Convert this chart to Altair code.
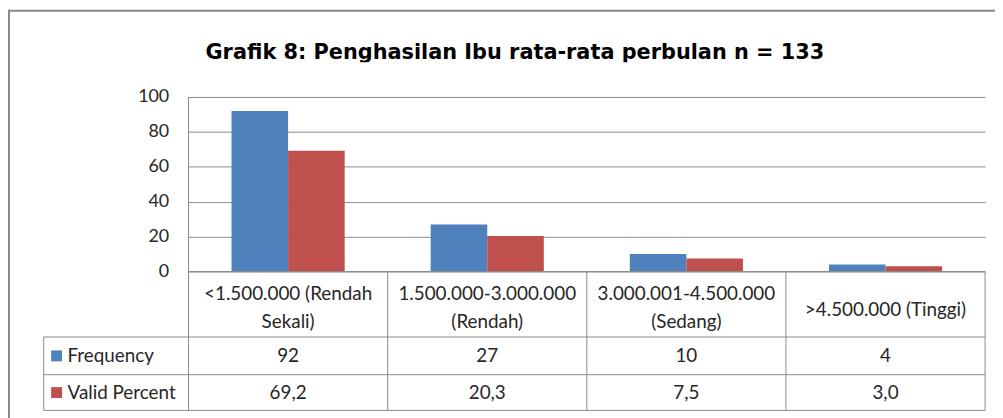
import altair as alt
import pandas as pd

# ---------------- data ----------------
title_text = "Grafik 8: Penghasilan Ibu rata-rata perbulan n = 133"
categories = [
    "<1.500.000 (Rendah Sekali)",
    "1.500.000-3.000.000 (Rendah)",
    "3.000.001-4.500.000 (Sedang)",
    ">4.500.000 (Tinggi)",
]
category_labels = [
    "<1.500.000 (Rendah\nSekali)",
    "1.500.000-3.000.000\n(Rendah)",
    "3.000.001-4.500.000\n(Sedang)",
    ">4.500.000 (Tinggi)",
]
series = ["Frequency", "Valid Percent"]
frequency = [92, 27, 10, 4]
valid_percent = [69.2, 20.3, 7.5, 3.0]
y_ticks = [0, 20, 40, 60, 80, 100]
colors = ["#4F81BD", "#C0504D"]

rows = []
for c, f, v in zip(categories, frequency, valid_percent):
    rows.append({"category": c, "series": "Frequency", "value": f, "label": str(f)})
    rows.append({"category": c, "series": "Valid Percent", "value": v,
                 "label": f"{v:.1f}".replace(".", ",")})
df = pd.DataFrame(rows)
cat_df = pd.DataFrame({"category": categories, "text": category_labels,
                       "nlines": [t.count("\n") + 1 for t in category_labels]})

# ---------------- layout (pixels) ----------------
W, H = 803, 176
ROW1, ROW2, ROW3 = 242, 280, 316          # table row borders below the plot
LEFT = -146                              # left edge of table header column
FONT = "Lato"
TXT = "#262626"
GRID = "#8a8a8a"

xcat = alt.X("category:N", sort=categories,
             scale=alt.Scale(paddingInner=0, paddingOuter=0), axis=None)

bars = alt.Chart(df).mark_bar().encode(
    x=xcat,
    xOffset=alt.XOffset("series:N", sort=series,
                        scale=alt.Scale(paddingInner=0, paddingOuter=0.76)),
    y=alt.Y("value:Q", title=None,
            scale=alt.Scale(domain=[0, 100], nice=False),
            axis=alt.Axis(values=y_ticks, grid=True, ticks=False, tickSize=0,
                          domain=False, labelPadding=20, labelFontSize=18,
                          labelFont=FONT, labelColor=TXT, gridColor=GRID,
                          gridWidth=1)),
    color=alt.Color("series:N", scale=alt.Scale(domain=series, range=colors),
                    legend=None),
)

# category header row
cat_layers = []
for n, yv in [(2, 199), (1, 215)]:
    cat_layers.append(
        alt.Chart(cat_df).transform_filter(alt.datum.nlines == n).mark_text(
            font=FONT, fontSize=19, color=TXT, lineBreak="\n", lineHeight=28,
            align="center", baseline="middle"
        ).encode(x=xcat, y=alt.value(yv), text="text:N"))

# value rows + left header column
layers = []
for s, y0, y1 in [("Frequency", ROW1, ROW2), ("Valid Percent", ROW2, ROW3)]:
    yc = (y0 + y1) / 2
    sub = alt.Chart(df).transform_filter(alt.datum.series == s)
    layers.append(sub.mark_text(font=FONT, fontSize=19, color=TXT,
                                align="center", baseline="middle")
                  .encode(x=xcat, y=alt.value(yc), text="label:N"))
    one = alt.Chart(pd.DataFrame({"series": [s]}))
    layers.append(one.mark_square(size=121, opacity=1).encode(
        x=alt.value(LEFT + 13), y=alt.value(yc),
        color=alt.Color("series:N", scale=alt.Scale(domain=series, range=colors),
                        legend=None)))
    layers.append(one.mark_text(font=FONT, fontSize=19, color=TXT,
                                align="left", baseline="middle")
                  .encode(x=alt.value(LEFT + 24), y=alt.value(yc), text="series:N"))

# table grid lines
def hline(x0, x1, y):
    return alt.Chart(pd.DataFrame({"k": [0]})).mark_rule(color=GRID, strokeWidth=1).encode(
        x=alt.value(x0), x2=alt.value(x1), y=alt.value(y))

def vline(x, y0, y1):
    return alt.Chart(pd.DataFrame({"k": [0]})).mark_rule(color=GRID, strokeWidth=1).encode(
        x=alt.value(x), y=alt.value(y0), y2=alt.value(y1))

grid_rules = [
    hline(0, W, H), hline(LEFT, W, ROW1), hline(LEFT, W, ROW2), hline(LEFT, W, ROW3),
    vline(0, 0, ROW3), vline(W, H, ROW3), vline(LEFT, ROW1, ROW3),
]
col_div = alt.Chart(cat_df).transform_filter(
    alt.datum.category != categories[0]
).mark_rule(color=GRID, strokeWidth=1).encode(
    x=alt.X("category:N", sort=categories, bandPosition=0,
            scale=alt.Scale(paddingInner=0, paddingOuter=0), axis=None),
    y=alt.value(H), y2=alt.value(ROW3))

# outer frame of the chart
FRAME = "#888888"
frame = [
    alt.Chart(pd.DataFrame({"k": [0]})).mark_rule(color=FRAME, strokeWidth=2).encode(
        x=alt.value(-181), y=alt.value(-88), y2=alt.value(330)),
    alt.Chart(pd.DataFrame({"k": [0]})).mark_rule(color=FRAME, strokeWidth=2).encode(
        x=alt.value(-182), x2=alt.value(830), y=alt.value(-87)),
]

# title (clipped at the bottom as in the original)
title = alt.Chart(pd.DataFrame({"t": [title_text]})).mark_text(
    font="DejaVu Sans", fontSize=21, fontWeight="bold", color="#000000",
    align="center", baseline="alphabetic"
).encode(x=alt.value(329), y=alt.value(-38.5), text="t:N")
clip = alt.Chart(pd.DataFrame({"k": [0]})).mark_rect(color="white").encode(
    x=alt.value(-170), x2=alt.value(780), y=alt.value(-35), y2=alt.value(-10))

chart = alt.layer(
    title, clip, bars, *cat_layers, *layers, *grid_rules, col_div, *frame
).properties(
    width=W, height=H,
    autosize=alt.AutoSizeParams(type="none"),
    padding={"left": 182, "top": 88, "right": 10, "bottom": 150},
    background="white",
).configure_view(strokeWidth=0)

chart.save("out.html", embed_options={"renderer": "svg", "actions": False})
